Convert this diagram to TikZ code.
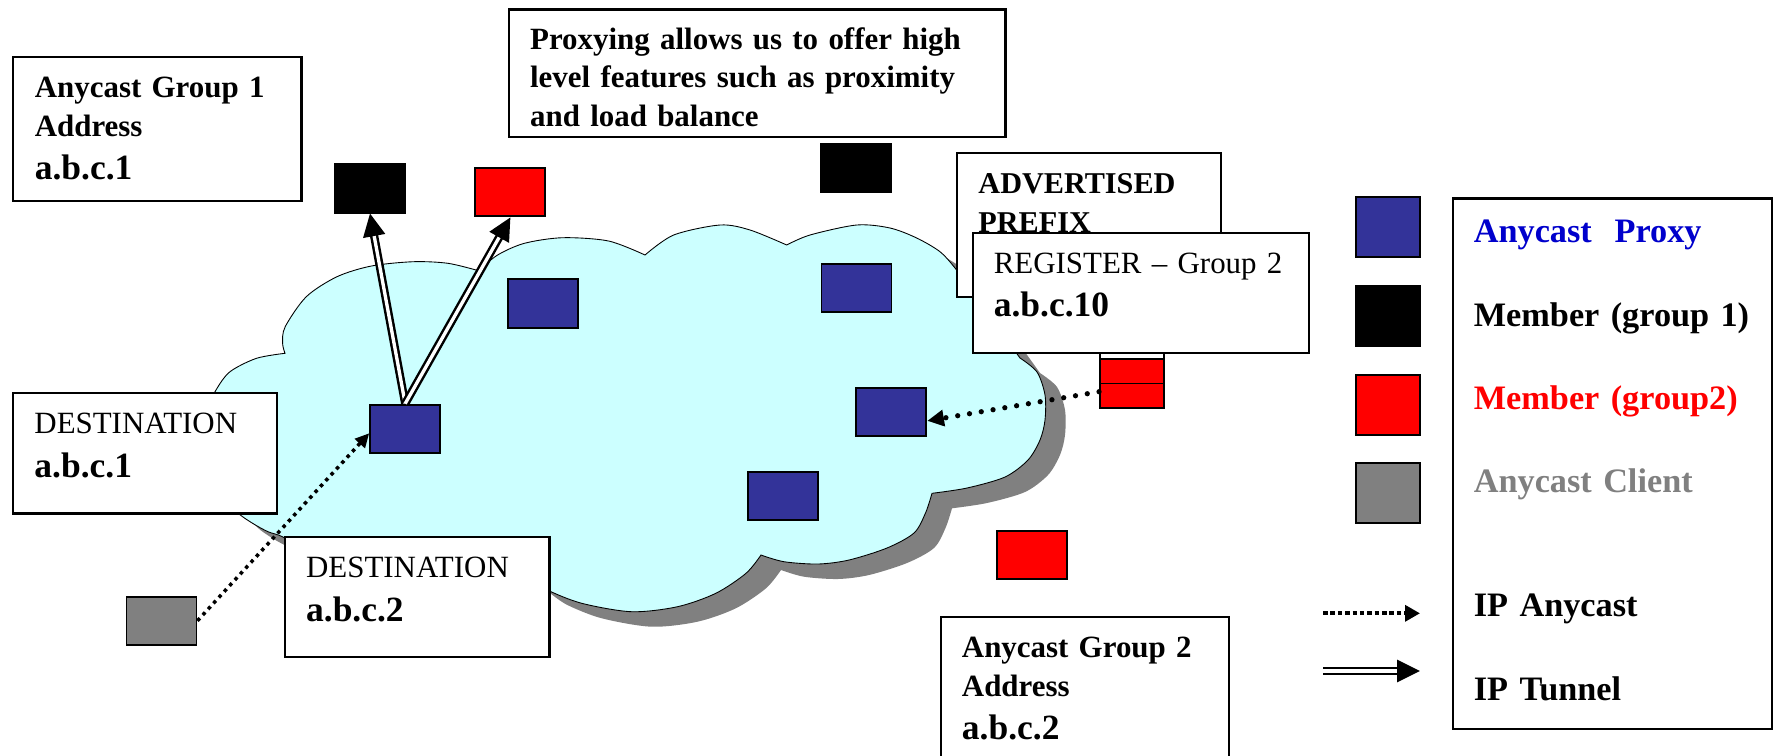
\documentclass[tikz,border=0pt]{standalone}
\usepackage{fontspec}
\setmainfont{Liberation Serif}
\usetikzlibrary{arrows.meta}
\definecolor{proxyblue}{RGB}{51,51,153}
\definecolor{cloudcyan}{RGB}{204,255,255}
\definecolor{shadowgrey}{RGB}{128,128,128}
\definecolor{legendblue}{RGB}{0,0,204}
\newcommand{\ipaddr}[1]{{\fontsize{20.2}{24}\selectfont\bfseries #1}}

\begin{document}
\begin{tikzpicture}[x=0.02cm, y=-0.02cm,
    sq/.style={draw, line width=1.1pt, inner sep=0pt, minimum width=1.4cm, minimum height=0.97cm},
    proxy/.style={sq, fill=proxyblue},
    member1/.style={sq, fill=black},
    member2/.style={sq, fill=red},
    client/.style={sq, fill=shadowgrey},
    keysq/.style={sq, minimum width=1.29cm, minimum height=1.2cm},
    textbox/.style={draw, fill=white, line width=1.3pt, anchor=north west, align=left, inner ysep=0pt, font=\fontsize{17.6}{21.8}\selectfont},
    boldbox/.style={textbox, font=\fontsize{17.6}{21.8}\selectfont\bfseries},
    tunnel/.style={double, double distance=1.9pt, line width=1.4pt, -{Triangle[length=13pt, width=12.5pt]}},
    anycast/.style={line width=2pt, dash pattern=on 2pt off 2.5pt, -{Triangle[length=8pt, width=7.5pt]}}]
  \useasboundingbox (0,0) rectangle (1777,755);
  \clip (0,0) rectangle (1777,755);

  \def\cloudline{plot[smooth] coordinates {(214,468) (205,440) (207,410) (216,390) (230,371.7) (256.5,358.3) (285,353.3)}
    -- plot[smooth] coordinates {(285,353.3) (282.6,343.3) (285.2,326.7) (306.3,296.7) (337,276.7) (371.4,266) (413.4,261.7) (448,263.3) (478.5,270.7)}
    -- plot[smooth] coordinates {(478.5,270.7) (497.6,255) (524.4,243.3) (562.7,237.7) (608.6,241) (645,255)}
    -- plot[smooth] coordinates {(645,255) (673.7,235) (720,225) (750,230) (786.7,245)}
    -- plot[smooth] coordinates {(786.7,245) (810,235) (856.7,225) (890,228) (916.7,238) (940,251.7) (955,268) (978,298) (1000,330) (1020,358)}
    -- plot[smooth] coordinates {(1020,358) (1037,372) (1045,395) (1045,420) (1040,440) (1028,460) (1005,477) (967,488) (932,493.3)}
    -- plot[smooth] coordinates {(932,493.3) (925.5,513) (914,533) (887,548) (849,560) (818,564) (784,561.7) (761,555)}
    -- plot[smooth] coordinates {(761,555) (746,573.3) (715.8,593.3) (677.5,606.7) (631.6,611.7) (581.8,603.3) (547.4,590) (530,578)}
    -- plot[smooth] coordinates {(530,578) (505,595) (465,603) (420,600) (385,588) (365,572)}
    -- plot[smooth] coordinates {(365,572) (335,566) (305,552) (283,537) (268,531.7) (252.6,523.3) (237.3,512.3) (225,495) (214,468)}
    -- cycle}
  \fill[shadowgrey, shift={(20,15)}] \cloudline;
  \draw[line width=0.5pt, fill=cloudcyan] \cloudline;

  \node[member1] (m1a) at (370,188.3) {};
  \node[member2] (m2a) at (510.4,192.2) {};
  \node[member1] (m1b) at (856.3,168) {};
  \node[proxy] (px1) at (543,303.5) {};
  \node[proxy] (px2) at (856.5,287.8) {};
  \node[proxy] (px0) at (405.2,428.8) {};
  \node[proxy] (px3) at (891.3,411.9) {};
  \node[proxy] (px4) at (783,495.9) {};
  \node[member2] (m2c) at (1031.7,555.2) {};
  \node[client] (cl) at (161.5,620.8) {};
  \node[sq, fill=white, minimum width=1.28cm, minimum height=0.5cm] (stub) at (1132,347.5) {};
  \node[member2, minimum width=1.28cm] (m2b) at (1132,383.5) {};
  \draw[line width=1.1pt] (m2b.west) -- (m2b.east);

  \draw[tunnel] (px0.north) -- (m1a.south);
  \draw[tunnel] (px0.north) -- (m2a.south);
  \draw[anycast] (cl.east) -- (px0.187);
  \draw[anycast, line width=3pt, line cap=round, dash pattern=on 0pt off 6.8pt, -{Triangle[length=9.5pt, width=9pt]}] (m2b.194) -- (px3.-14);

  \node[boldbox, text width=4.89cm, inner xsep=0.444cm, text height=0.82cm, text depth=2.066cm] (grp1) at (11.5,55.7) {Anycast Group 1\\Address\\[2.8pt]\ipaddr{a.b.c.1}};
  \node[boldbox, text width=9.09cm, inner xsep=0.42cm, text height=0.8cm, text depth=1.754cm] (prox) at (508,8.3) {Proxying allows us to offer high\\level features such as proximity\\and load balance};
  \node[boldbox, font=\fontsize{17.2}{22.2}\selectfont\bfseries, text width=4.43cm, inner xsep=0.426cm, text height=0.82cm, text depth=2.06cm] (adv) at (956,151.7) {ADVERTISED\\PREFIX};
  \node[textbox, text width=6.1cm, inner xsep=0.31cm, text height=0.82cm, text depth=1.58cm] (reg) at (971.7,231.7) {\hspace*{0.11cm}REGISTER – Group 2\\[2.7pt]\hspace*{0.11cm}\ipaddr{a.b.c.10}};
  \node[textbox, text width=4.42cm, inner xsep=0.436cm, text height=0.812cm, text depth=1.6cm] (dest1) at (11.5,391.7) {DESTINATION\\[3.5pt]\ipaddr{a.b.c.1}};
  \node[textbox, text width=4.45cm, inner xsep=0.42cm, text height=0.814cm, text depth=1.586cm] (dest2) at (284,536) {DESTINATION\\[2.8pt]\ipaddr{a.b.c.2}};
  \node[boldbox, text width=4.92cm, inner xsep=0.422cm, text height=0.814cm, text depth=2.6cm] (grp2) at (939.7,616) {Anycast Group 2\\Address\\[2.8pt]\ipaddr{a.b.c.2}};

  \node[keysq, fill=proxyblue] (key1) at (1388,227.2) {};
  \node[keysq, fill=black] (key2) at (1388,315.9) {};
  \node[keysq, fill=red] (key3) at (1388,405) {};
  \node[keysq, fill=shadowgrey] (key4) at (1388,493.3) {};
  \coordinate (ka1) at (1323,613.3);
  \coordinate (ka2) at (1420,613.3);
  \coordinate (kt1) at (1323,671);
  \coordinate (kt2) at (1420,671);
  \draw[anycast, line width=2.2pt, dash pattern=on 2.6pt off 1.6pt, -{Triangle[length=8.5pt, width=9pt]}] (ka1) -- (ka2);
  \draw[tunnel] (kt1) -- (kt2);
  \node[boldbox, font=\fontsize{19.5}{47.4}\selectfont\bfseries, text width=5.552cm, inner xsep=0.414cm, text height=0.888cm, text depth=9.72cm] (legend) at (1452,197.3) {\textcolor{legendblue}{Anycast\ \ Proxy}\\Member (group 1)\\\textcolor{red}{Member (group2)}\\\textcolor{shadowgrey}{Anycast Client}\\[23.3pt]IP Anycast\\IP Tunnel};
\end{tikzpicture}
\end{document}
